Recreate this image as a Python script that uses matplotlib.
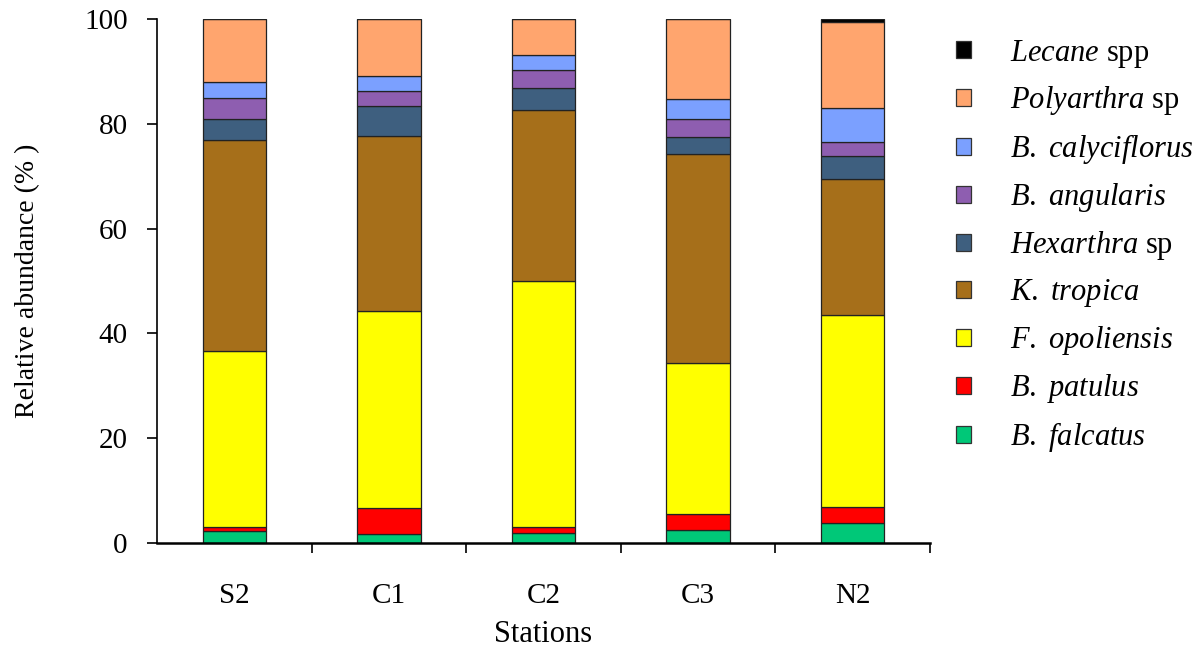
import matplotlib
matplotlib.use("Agg")
import matplotlib.pyplot as plt
import numpy as np
from matplotlib.patches import Patch

plt.rcParams["font.family"] = "Liberation Serif"
plt.rcParams["mathtext.fontset"] = "custom"
plt.rcParams["mathtext.rm"] = "Liberation Serif"
plt.rcParams["mathtext.it"] = "Liberation Serif:italic"

stations = ["S2", "C1", "C2", "C3", "N2"]

# relative abundance (%) per station, bottom layer first
b_falcatus    = [2.2, 1.8, 1.9, 2.5, 3.9]
b_patulus     = [0.8, 4.8, 1.1, 3.0, 3.0]
f_opoliensis  = [33.6, 37.7, 47.0, 28.9, 36.7]
k_tropica     = [40.3, 33.3, 32.6, 39.8, 25.8]
hexarthra     = [4.0, 5.8, 4.2, 3.2, 4.5]
b_angularis   = [4.1, 2.8, 3.5, 3.5, 2.6]
b_calyciflorus = [3.0, 3.0, 2.9, 3.8, 6.6]
polyarthra    = [12.0, 10.8, 6.8, 15.3, 16.3]
lecane        = [0.0, 0.0, 0.0, 0.0, 0.6]

series = [b_falcatus, b_patulus, f_opoliensis, k_tropica, hexarthra,
          b_angularis, b_calyciflorus, polyarthra, lecane]
labels = [r"$\it{B.}$ $\it{falcatus}$", r"$\it{B.}$ $\it{patulus}$",
          r"$\it{F.}$ $\it{opoliensis}$", r"$\it{K.}$ $\it{tropica}$",
          r"$\it{Hexarthra}$ sp", r"$\it{B.}$ $\it{angularis}$",
          r"$\it{B.}$ $\it{calyciflorus}$", r"$\it{Polyarthra}$ sp",
          r"$\it{Lecane}$ spp"]
colors = ["#00C878", "#FF0000", "#FFFF00", "#A66F1A", "#3E5F7F",
          "#8E5EB0", "#7BA0FF", "#FFA56E", "#000000"]

fig = plt.figure(figsize=(12.03, 6.51), dpi=100)
ax = fig.add_axes([157 / 1203, 1 - 543 / 651, 773 / 1203, 524 / 651])

x = np.arange(len(stations))
bottom = np.zeros(len(stations))
handles = []
for vals, lab, col in zip(series, labels, colors):
    ax.bar(x, vals, bottom=bottom, width=0.41, color=col,
           edgecolor="#222222", linewidth=0.9)
    bottom += np.array(vals)
    handles.append(Patch(facecolor=col, edgecolor="#333333", linewidth=0.9, label=lab))

ax.set_xlim(-0.5, 4.5)
ax.set_ylim(0, 100)
ax.set_yticks(range(0, 101, 20))
ax.set_xticks(np.arange(0.5, 5, 1))
ax.set_xticklabels([])
ax.set_xticks(x, minor=True)
ax.set_xticklabels(stations, minor=True)
ax.tick_params(axis="x", which="major", length=7, direction="out", width=1.2)
ax.tick_params(axis="x", which="minor", length=0, pad=29, labelsize=21)
ax.tick_params(axis="y", length=7, direction="out", width=1.2, labelsize=21, pad=14)
for s in ["top", "right"]:
    ax.spines[s].set_visible(False)
ax.spines["bottom"].set_linewidth(1.8)
ax.spines["left"].set_linewidth(1.2)

ax.set_ylabel("Relative abundance (% )", fontsize=20, labelpad=32)
ax.set_xlabel("Stations", fontsize=22, labelpad=8)

fig.legend(handles=handles[::-1], loc="upper left",
           bbox_to_anchor=(928 / 1203, 1 - 10 / 651), frameon=False,
           fontsize=22, handlelength=0.5, handleheight=0.5,
           handletextpad=1.3, labelspacing=0.49)

fig.savefig("out.png", dpi=100)
